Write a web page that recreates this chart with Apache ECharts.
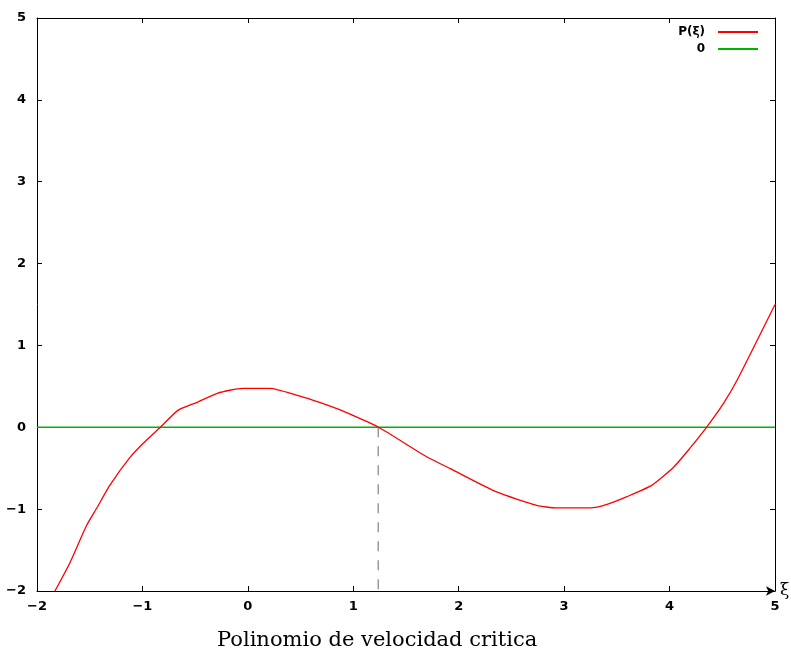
<!DOCTYPE html>
<html><head><meta charset="utf-8">
<script src="https://cdn.jsdelivr.net/npm/echarts@6/dist/echarts.min.js"></script>
<style>html,body{margin:0;padding:0;background:#fff}#c{width:791px;height:653px}</style>
</head><body><div id="c"></div>
<script>
// Data
const xTicks = [-2, -1, 0, 1, 2, 3, 4, 5];
const yTicks = [-2, -1, 0, 1, 2, 3, 4, 5];
const polyX = [-1.83, -1.69, -1.53, -1.43, -1.31, -1.12, -0.98, -0.83, -0.66, -0.48, -0.29, -0.05, 0.21, 0.47, 0.68, 0.87, 0.97, 1.24, 1.70, 1.92, 2.36, 2.74, 2.93, 3.25, 3.40, 3.59, 3.83, 4.04, 4.19, 4.35, 4.51, 4.64, 5.0];
const polyY = [-2.0, -1.66, -1.2, -0.98, -0.71, -0.37, -0.18, 0, 0.21, 0.305, 0.415, 0.476, 0.476, 0.39, 0.305, 0.216, 0.16, 0, -0.363, -0.505, -0.79, -0.953, -0.985, -0.985, -0.945, -0.85, -0.71, -0.485, -0.26, 0, 0.29, 0.575, 1.50];
const zeroX = [-2, 5];
const zeroY = [0, 0];
const rootX = 1.237;
const rootY = [0, -2];

const seriesName = 'P(ξ)';
const zeroName = '0';
const titleText = 'Polinomio de velocidad critica';
const xName = 'ξ';

const fmt = v => String(v).replace('-', '−');
const chart = echarts.init(document.getElementById('c'), null, {renderer: 'canvas'});
const axisLabelStyle = {color: '#000', fontFamily: 'DejaVu Sans', fontWeight: 'bold', fontSize: 13};
chart.setOption({
  animation: false,
  backgroundColor: '#fff',
  title: {
    text: titleText, left: 212, top: 625,
    textStyle: {fontFamily: 'DejaVu Serif', fontWeight: 'normal', fontSize: 21, color: '#000'}
  },
  legend: {
    orient: 'vertical', right: 28, top: 21, align: 'right',
    itemWidth: 40, itemHeight: 2, itemGap: 5,
    icon: 'rect',
    data: [seriesName, zeroName],
    textStyle: {fontFamily: 'DejaVu Sans', fontWeight: 'bold', fontSize: 12, color: '#000', padding: [0, 8, 0, 0]}
  },
  grid: {left: 37, right: 16, top: 18, bottom: 62, outerBoundsMode: 'none', containLabel: false},
  xAxis: [{
    type: 'value', min: -2, max: 5, interval: 1, position: 'bottom',
    name: xName, nameGap: 5, nameLocation: 'end',
    nameTextStyle: {fontFamily: 'DejaVu Serif', fontSize: 17, color: '#000', verticalAlign: 'middle'},
    axisLine: {show: true, onZero: false, symbol: ['none', 'arrow'], symbolSize: [7, 9], symbolOffset: [0, 0], lineStyle: {color: '#000', width: 1}},
    axisTick: {show: true, inside: true, length: 5, lineStyle: {color: '#000'}},
    axisLabel: Object.assign({formatter: fmt, margin: 9}, axisLabelStyle),
    splitLine: {show: false}
  }, {
    type: 'value', min: -2, max: 5, interval: 1, position: 'top',
    axisLine: {show: true, onZero: false, lineStyle: {color: '#000', width: 1}},
    axisTick: {show: true, inside: true, length: 5, lineStyle: {color: '#000'}},
    axisLabel: {show: false}, splitLine: {show: false}
  }],
  yAxis: [{
    type: 'value', min: -2, max: 5, interval: 1, position: 'left',
    axisLine: {show: true, onZero: false, lineStyle: {color: '#000', width: 1}},
    axisTick: {show: true, inside: true, length: 5, lineStyle: {color: '#000'}},
    axisLabel: Object.assign({formatter: fmt, margin: 11}, axisLabelStyle),
    splitLine: {show: false}
  }, {
    type: 'value', min: -2, max: 5, interval: 1, position: 'right',
    axisLine: {show: true, onZero: false, lineStyle: {color: '#000', width: 1}},
    axisTick: {show: true, inside: true, length: 5, lineStyle: {color: '#000'}},
    axisLabel: {show: false}, splitLine: {show: false}
  }],
  series: [{
    name: seriesName, type: 'line', showSymbol: false, symbol: 'none', smooth: 0.2,
    data: polyX.map((x, i) => [x, polyY[i]]),
    lineStyle: {color: '#ff0000', width: 1.3}, itemStyle: {color: '#ff0000'}, z: 4
  }, {
    name: zeroName, type: 'line', showSymbol: false, symbol: 'none',
    data: zeroX.map((x, i) => [x, zeroY[i]]),
    lineStyle: {color: '#00b400', width: 1.4}, itemStyle: {color: '#00b400'}, z: 3
  }, {
    name: 'root', type: 'line', showSymbol: false, symbol: 'none',
    data: rootY.map(y => [rootX, y]),
    lineStyle: {color: '#999999', width: 1.5, type: [10, 9]}, z: 2
  }]
});
</script></body></html>
